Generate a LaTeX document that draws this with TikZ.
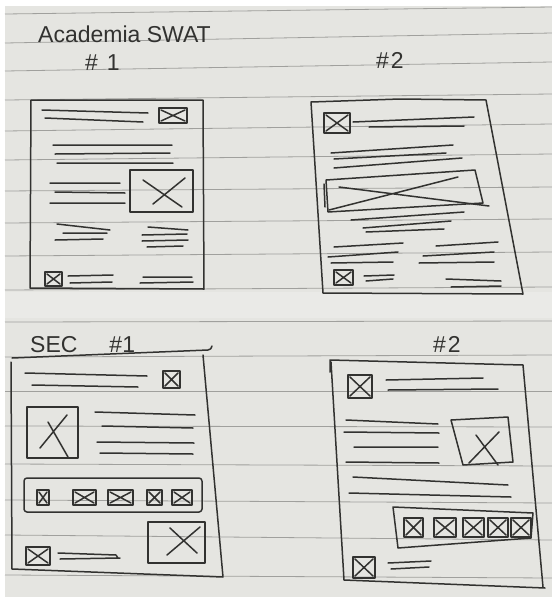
\documentclass[tikz,border=0pt]{standalone}
\usepackage{fontspec}
\setmainfont{Liberation Sans}
\definecolor{paper}{RGB}{229,229,225}
\definecolor{ink}{RGB}{50,50,48}
\definecolor{rulecol}{RGB}{160,160,157}
\tikzset{
  pen/.style={ink,line width=1.5pt,line cap=round,line join=round},
  ruling/.style={rulecol,line width=0.8pt},
  hand/.style={ink,font=\fontsize{23}{23}\selectfont,inner sep=0pt,anchor=base west}
}
% small picture placeholder: a box with a cross
\newcommand\xbox[4]{%
  \draw[pen] (#1,#2) rectangle (#3,#4);
  \draw[pen] ({#1+2},{#2+2}) -- ({#3-2},{#4-2}) ({#1+2},{#4-2}) -- ({#3-2},{#2+2});}

\begin{document}
\begin{tikzpicture}[x=1pt,y=-1pt]
  \useasboundingbox (0,0) rectangle (552,606);
  \fill[white] (0,0) rectangle (552,606);
  \fill[paper] (5,6) rectangle (552,597);
  \fill[white,opacity=0.2] (5,292) rectangle (552,318);
  % notebook rules
  \foreach \l/\r in {14/7, 43/33, 71/62, 100/94, 131/124, 160/154, 191/187,
      223/219, 256/252, 290/287, 322/321, 357/355, 391/391, 426/427,
      464/466, 500/503, 535/540, 575/578}
    \draw[ruling] (5,\l) -- (552,\r);

  % headings
  \node[hand] (title) at (38,42) {Academia SWAT};
  \node[hand] (swat1) at (85,70) {\#\hspace{9pt}1};
  \node[hand] (swat2) at (376,68) {\#\hspace{2pt}2};
  \node[hand] (sec1) at (30,352) {SEC\hspace{32pt}\#1};
  \node[hand] (sec2) at (433,352) {\#\hspace{2pt}2};

  % Academia SWAT #1
  \draw[pen] (31,100) -- (203,100) -- (204,289) -- (30,288) -- cycle;
  \draw[pen] (42,110) -- (148,113) (45,118) -- (143,122);
  \xbox{159}{108}{187}{123}
  \draw[pen] (53,145) -- (172,145) (55,154) -- (170,153) (57,163) -- (173,163);
  \draw[pen] (130,170) rectangle (193,212);
  \draw[pen] (143,180) -- (182,207) (185,178) -- (153,204);
  \draw[pen] (50,183) -- (120,183) (55,192) -- (125,193) (50,203) -- (125,203);
  \draw[pen] (57,224) -- (110,230) (63,233) -- (107,233) (55,240) -- (103,239);
  \draw[pen] (148,227) -- (188,230) (142,235) -- (187,234)
    (142,241) -- (188,240) (147,247) -- (183,246);
  \xbox{45}{272}{62}{286}
  \draw[pen] (68,276) -- (113,275) (70,283) -- (112,282);
  \draw[pen] (143,277) -- (192,277) (140,283) -- (193,282);

  % Academia SWAT #2
  \draw[pen] (311,102) -- (400,99) -- (486,100) -- (523,294) -- (323,293) -- cycle;
  \xbox{324}{113}{350}{133}
  \draw[pen] (353,122) -- (474,117) (369,127) -- (464,126);
  \draw[pen] (331,153) -- (453,145) (334,159) -- (446,153) (334,168) -- (462,158);
  \draw[pen] (326,180) -- (475,170) -- (483,203) -- (328,212) -- cycle;
  \draw[pen] (324,184) -- (325,207);
  \draw[pen] (339,187) -- (489,206) (458,177) -- (329,210);
  \draw[pen] (351,220) -- (464,212) (363,228) -- (451,221) (366,232) -- (444,229);
  \draw[pen] (334,247) -- (403,243) (328,257) -- (398,252) (331,263) -- (393,262);
  \draw[pen] (436,246) -- (498,242) (423,256) -- (494,252) (419,263) -- (494,262);
  \xbox{334}{270}{353}{285}
  \draw[pen] (364,276) -- (394,275) (366,281) -- (393,279);
  \draw[pen] (446,279) -- (501,281) (451,287) -- (501,286);

  % SEC #1
  \draw[pen] (12,358) -- (208,350) .. controls (211,349) .. (212,346);
  \draw[pen] (11,362) -- (12,569) -- (223,577) -- (203,355);
  \draw[pen] (25,373) -- (147,376) (32,385) -- (138,387);
  \xbox{163}{371}{180}{388}
  \draw[pen] (27,407) rectangle (78,458);
  \draw[pen] (40,448) -- (67,415) (48,422) -- (68,457);
  \draw[pen] (95,412) -- (195,415) (102,426) -- (193,428)
    (97,442) -- (194,443) (100,453) -- (193,454);
  \draw[pen,rounded corners=3pt] (24,478) rectangle (202,512);
  \foreach \a/\b in {37/49, 73/96, 108/133, 147/162, 172/192}
    {\xbox{\a}{490}{\b}{505}}
  \draw[pen] (148,522) rectangle (205,563);
  \draw[pen] (167,555) -- (200,527) (170,528) -- (197,553);
  \xbox{26}{547}{50}{565}
  \draw[pen] (58,553) -- (116,555) -- (118,558) (60,559) -- (120,558);

  % SEC #2
  \draw[pen] (330,372) -- (330,360) -- (523,365) -- (543,587);
  \draw[pen] (331,362) -- (344,580) -- (545,588);
  \xbox{348}{375}{372}{398}
  \draw[pen] (386,380) -- (483,378) (388,390) -- (498,389);
  \draw[pen] (451,420) -- (508,417) -- (513,462) -- (463,465) -- cycle;
  \draw[pen] (469,463) -- (499,432) (476,435) -- (498,465);
  \draw[pen] (346,420) -- (438,424) (344,432) -- (439,433)
    (354,447) -- (438,447) (346,462) -- (439,463);
  \draw[pen] (353,477) -- (508,485) (349,493) -- (511,497);
  \draw[pen] (393,507) -- (533,513) -- (531,538) -- (398,548) -- cycle;
  \foreach \a/\b in {404/423, 434/456, 463/484, 488/508, 511/531}
    {\xbox{\a}{518}{\b}{537}}
  \xbox{353}{557}{375}{578}
  \draw[pen] (388,563) -- (431,561) (391,569) -- (429,567);
\end{tikzpicture}
\end{document}
